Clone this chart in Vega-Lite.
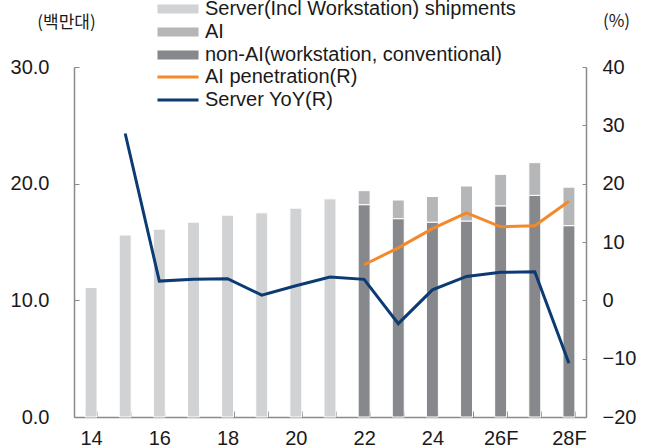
{
  "$schema": "https://vega.github.io/schema/vega-lite/v6.json",
  "width": 512,
  "height": 350,
  "autosize": {"type": "none"},
  "padding": {"left": 74, "top": 67, "right": 65, "bottom": 28},
  "background": "white",
  "config": {
    "view": {"stroke": null},
    "font": "Liberation Sans",
    "axis": {
      "domainColor": "#8a8a8a",
      "domainWidth": 1.5,
      "tickColor": "#8a8a8a",
      "tickWidth": 1,
      "labelColor": "#1a1a1a",
      "labelFont": "Liberation Sans",
      "labelFontSize": 20,
      "grid": false,
      "titleFont": "Noto Sans CJK KR",
      "titleFontSize": 17,
      "titleFontWeight": "normal",
      "titleColor": "#1a1a1a"
    },
    "legend": {
      "labelFont": "Liberation Sans",
      "labelFontSize": 20,
      "labelColor": "#1a1a1a",
      "labelLimit": 0
    }
  },
  "datasets": {
    "bars": [
      {"year": "14", "series": "Server(Incl Workstation) shipments", "value": 11.1},
      {"year": "15", "series": "Server(Incl Workstation) shipments", "value": 15.6},
      {"year": "16", "series": "Server(Incl Workstation) shipments", "value": 16.1},
      {"year": "17", "series": "Server(Incl Workstation) shipments", "value": 16.7},
      {"year": "18", "series": "Server(Incl Workstation) shipments", "value": 17.3},
      {"year": "19", "series": "Server(Incl Workstation) shipments", "value": 17.5},
      {"year": "20", "series": "Server(Incl Workstation) shipments", "value": 17.9},
      {"year": "21", "series": "Server(Incl Workstation) shipments", "value": 18.7},
      {"year": "22", "series": "non-AI(workstation, conventional)", "value": 18.2},
      {"year": "22", "series": "AI", "value": 1.2},
      {"year": "23", "series": "non-AI(workstation, conventional)", "value": 17.0},
      {"year": "23", "series": "AI", "value": 1.6},
      {"year": "24", "series": "non-AI(workstation, conventional)", "value": 16.7},
      {"year": "24", "series": "AI", "value": 2.2},
      {"year": "25", "series": "non-AI(workstation, conventional)", "value": 16.8},
      {"year": "25", "series": "AI", "value": 3.0},
      {"year": "26F", "series": "non-AI(workstation, conventional)", "value": 18.1},
      {"year": "26F", "series": "AI", "value": 2.7},
      {"year": "27F", "series": "non-AI(workstation, conventional)", "value": 19.0},
      {"year": "27F", "series": "AI", "value": 2.8},
      {"year": "28F", "series": "non-AI(workstation, conventional)", "value": 16.4},
      {"year": "28F", "series": "AI", "value": 3.3}
    ],
    "lines": [
      {"year": "15", "series": "Server YoY(R)", "value": 28.6},
      {"year": "16", "series": "Server YoY(R)", "value": 3.3},
      {"year": "17", "series": "Server YoY(R)", "value": 3.6},
      {"year": "18", "series": "Server YoY(R)", "value": 3.7},
      {"year": "19", "series": "Server YoY(R)", "value": 0.9},
      {"year": "20", "series": "Server YoY(R)", "value": 2.5},
      {"year": "21", "series": "Server YoY(R)", "value": 4.0},
      {"year": "22", "series": "Server YoY(R)", "value": 3.6},
      {"year": "23", "series": "Server YoY(R)", "value": -4.0},
      {"year": "24", "series": "Server YoY(R)", "value": 1.8},
      {"year": "25", "series": "Server YoY(R)", "value": 4.1},
      {"year": "26F", "series": "Server YoY(R)", "value": 4.8},
      {"year": "27F", "series": "Server YoY(R)", "value": 4.9},
      {"year": "28F", "series": "Server YoY(R)", "value": -10.8},
      {"year": "22", "series": "AI penetration(R)", "value": 6.1},
      {"year": "23", "series": "AI penetration(R)", "value": 9.0},
      {"year": "24", "series": "AI penetration(R)", "value": 12.3},
      {"year": "25", "series": "AI penetration(R)", "value": 15.0},
      {"year": "26F", "series": "AI penetration(R)", "value": 12.6},
      {"year": "27F", "series": "AI penetration(R)", "value": 12.8},
      {"year": "28F", "series": "AI penetration(R)", "value": 17.0}
    ]
  },
  "encoding": {
    "x": {
      "field": "year",
      "type": "ordinal",
      "sort": null,
      "scale": {
        "domain": ["14", "15", "16", "17", "18", "19", "20", "21", "22", "23", "24", "25", "26F", "27F", "28F"],
        "paddingInner": 0.65,
        "paddingOuter": 0.325
      },
      "axis": {
        "title": null,
        "orient": "bottom",
        "labelAngle": 0,
        "tickBand": "extent",
        "tickSize": -6,
        "labelPadding": 17,
        "labelExpr": "indexof(['14','16','18','20','22','24','26F','28F'], datum.label) >= 0 ? datum.label : ''"
      }
    }
  },
  "layer": [
    {
      "data": {"name": "bars"},
      "mark": {"type": "bar", "stroke": "white", "strokeWidth": 1},
      "encoding": {
        "y": {
          "field": "value",
          "type": "quantitative",
          "stack": "zero",
          "scale": {"domain": [0, 30], "nice": false},
          "axis": {
            "orient": "left",
            "title": "(백만대)",
            "titleAngle": 0,
            "titleAlign": "center",
            "titleBaseline": "middle",
            "titleX": -8,
            "titleY": -45,
            "values": [0, 10, 20, 30],
            "format": ".1f",
            "tickSize": -5,
            "labelPadding": 30
          }
        },
        "fill": {
          "field": "series",
          "type": "nominal",
          "scale": {
            "domain": ["Server(Incl Workstation) shipments", "AI", "non-AI(workstation, conventional)"],
            "range": ["#d1d2d4", "#b5b6b8", "#86888b"]
          },
          "legend": {
            "title": null,
            "orient": "none",
            "legendX": 94,
            "legendY": -68,
            "padding": 0,
            "symbolType": "M-4.56,-1H4.56V1H-4.56Z",
            "symbolSize": 81,
            "symbolStrokeWidth": 0,
            "labelOffset": 17,
            "rowPadding": 3
          }
        },
        "order": {"field": "series", "sort": "descending"}
      }
    },
    {
      "data": {"name": "lines"},
      "layer": [
        {
          "mark": {"type": "rule", "color": "#000000", "strokeWidth": 1, "strokeDash": [4, 3]},
          "encoding": {"y": {"datum": 0, "type": "quantitative"}}
        },
        {
          "mark": {"type": "line", "strokeWidth": 3},
          "encoding": {
            "y": {
              "field": "value",
              "type": "quantitative",
              "scale": {"domain": [-20, 40], "nice": false},
              "axis": {
                "orient": "right",
                "title": "(%)",
                "titleAngle": 0,
                "titleAlign": "center",
                "titleBaseline": "middle",
                "titleX": 30,
                "titleY": -46,
                "values": [-20, -10, 0, 10, 20, 30, 40],
                "format": "d",
                "tickSize": -4,
                "labelPadding": 20
              }
            },
            "stroke": {
              "field": "series",
              "type": "nominal",
              "scale": {
                "domain": ["AI penetration(R)", "Server YoY(R)"],
                "range": ["#f5892a", "#0c3b73"]
              },
              "legend": {
                "title": null,
                "orient": "none",
                "legendX": 94,
                "legendY": 0,
                "padding": 0,
                "symbolType": "M-4.56,0H4.56",
                "symbolSize": 81,
                "symbolStrokeWidth": 3,
                "labelOffset": 17,
                "rowPadding": 3
              }
            }
          }
        }
      ]
    }
  ],
  "resolve": {"scale": {"y": "independent"}}
}
